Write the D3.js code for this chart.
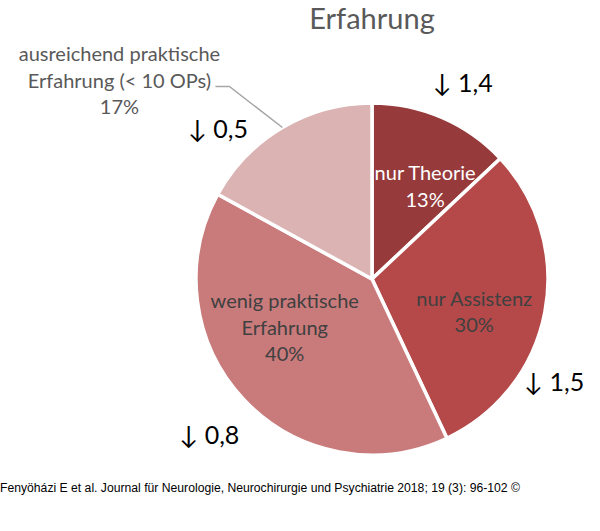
<!DOCTYPE html>
<html>
<head>
<meta charset="utf-8">
<script src="https://cdn.jsdelivr.net/npm/d3@7"></script>
<style>
  body { margin: 0; background: #fff; }
  svg { display: block; }
</style>
</head>
<body>
<div id="chart"></div>
<script>
/* DATA */
const categories = ["nur Theorie", "nur Assistenz", "wenig praktische Erfahrung", "ausreichend praktische Erfahrung (< 10 OPs)"];
const labelLines = [["nur Theorie"], ["nur Assistenz"], ["wenig praktische", "Erfahrung"], ["ausreichend praktische", "Erfahrung (< 10 OPs)"]];
const percents = [13, 30, 40, 17];
const changes = ["1,4", "1,5", "0,8", "0,5"];
const colors = ["#963a3b", "#b5494a", "#c97b7c", "#dbb3b3"];
const labelColors = ["#ffffff", "#404040", "#404040", "#595959"];
const titleText = "Erfahrung";
const sourceText = "Fenyöházi E et al. Journal für Neurologie, Neurochirurgie und Psychiatrie 2018; 19 (3): 96-102 ©";

/* LAYOUT */
const width = 600, height = 531;
const cx = 372, cy = 279, radius = 176;
const font = "Lato, 'Open Sans', sans-serif";
// small angle nudges (degrees) so labels sit where the original put them
const labelShift = [7, 8, 13, 0];
const labelRadius = [105, 108, 101, 0];
const annoShift = [1.6, 19, -0.8, -15.4];
const annoRadius = [215, 210, 226, 214];

const svg = d3.select("#chart").append("svg")
  .attr("width", width)
  .attr("height", height);

const g = svg.append("g").attr("transform", `translate(${cx},${cy})`);

const pie = d3.pie().sort(null).value(d => d);
const arcs = pie(percents);
const arc = d3.arc().innerRadius(0).outerRadius(radius);

g.selectAll("path.slice")
  .data(arcs)
  .join("path")
  .attr("class", "slice")
  .attr("d", arc)
  .attr("fill", (d, i) => colors[i])
  .attr("stroke", "#fff")
  .attr("stroke-width", 3.5)
  .attr("stroke-linejoin", "miter");

const polar = (a, r) => [r * Math.sin(a), -r * Math.cos(a)];
const mid = d => (d.startAngle + d.endAngle) / 2;
const deg = Math.PI / 180;
const lineH = 26.5;

// inside labels (first three slices)
arcs.forEach((d, i) => {
  if (i === 3) return;
  const [x, y] = polar(mid(d) + labelShift[i] * deg, labelRadius[i]);
  const lines = labelLines[i].concat([percents[i] + "%"]);
  const t = g.append("text")
    .attr("text-anchor", "middle")
    .attr("font-family", font)
    .attr("font-size", 20)
    .attr("fill", labelColors[i]);
  lines.forEach((s, k) => {
    t.append("tspan")
      .attr("x", x)
      .attr("y", y + (k - (lines.length - 1) / 2) * lineH + 5)
      .text(s);
  });
});

// outside label with leader line (last slice)
{
  const d = arcs[3];
  const [ox, oy] = polar(mid(d), radius);
  const elbow = [ox - 53, oy - 41];
  const end = [elbow[0] - 14, elbow[1]];
  g.append("polyline")
    .attr("points", [[ox, oy], elbow, end].map(p => p.join(",")).join(" "))
    .attr("fill", "none")
    .attr("stroke", "#a6a6a6")
    .attr("stroke-width", 1.5);
  const lines = labelLines[3].concat([percents[3] + "%"]);
  const tx = end[0] - 96, ty = end[1];
  const t = g.append("text")
    .attr("text-anchor", "middle")
    .attr("font-family", font)
    .attr("font-size", 20)
    .attr("fill", labelColors[3]);
  lines.forEach((s, k) => {
    t.append("tspan")
      .attr("x", tx)
      .attr("y", ty + (k - 1) * lineH + 1)
      .text(s);
  });
}

// change annotations
arcs.forEach((d, i) => {
  const [x, y] = polar(mid(d) + annoShift[i] * deg, annoRadius[i]);
  g.append("text")
    .attr("x", x)
    .attr("y", y + 8)
    .attr("text-anchor", "middle")
    .attr("font-family", font)
    .attr("font-size", 25)
    .attr("fill", "#000")
    .text("\u2193 " + changes[i]);
});

// title
svg.append("text")
  .attr("x", cx)
  .attr("y", 29)
  .attr("text-anchor", "middle")
  .attr("font-family", font)
  .attr("font-size", 29)
  .attr("fill", "#595959")
  .text(titleText);

// source line
svg.append("text")
  .attr("x", 0)
  .attr("y", 492)
  .attr("font-family", "'Liberation Sans', Arial, sans-serif")
  .attr("font-size", 12)
  .attr("fill", "#000")
  .attr("textLength", 520)
  .attr("lengthAdjust", "spacingAndGlyphs")
  .text(sourceText);
</script>
</body>
</html>
